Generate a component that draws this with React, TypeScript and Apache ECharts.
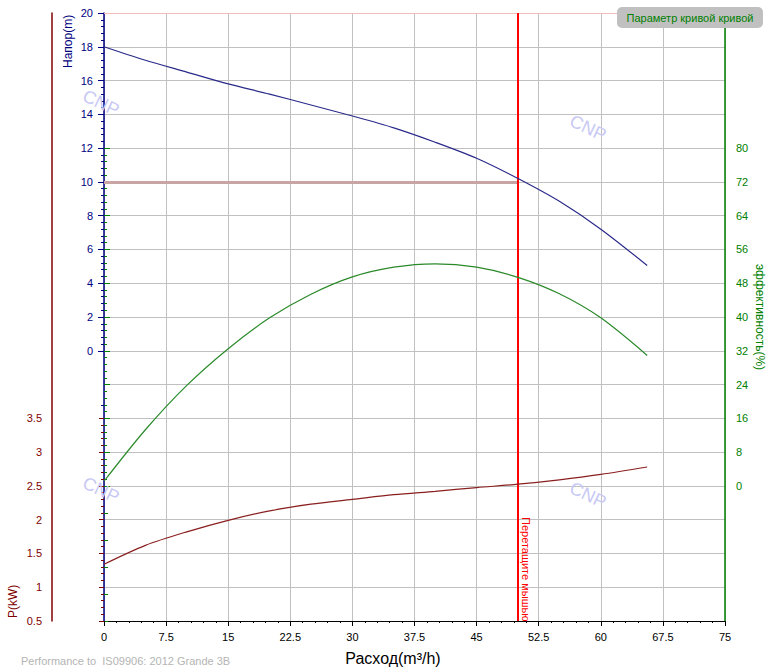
import React, { useEffect, useRef } from "react";
import * as echarts from "echarts";

const flowHead = [0, 5, 10, 15, 20, 25, 30, 35, 40, 45, 50, 55, 60, 65.6];
const head = [18, 17.2, 16.5, 15.8, 15.2, 14.55, 13.9, 13.2, 12.35, 11.4, 10.2, 8.85, 7.2, 5.05];

const flowEff = [0, 5, 10, 15, 20, 25, 30, 35, 40, 45, 50, 55, 60, 65.6];
const efficiency = [1.1, 13.3, 23.8, 32.5, 39.8, 45.4, 49.5, 51.8, 52.6, 51.8, 49.4, 45.5, 39.8, 30.9];

const flowPower = [0, 5, 10, 15, 20, 25, 30, 35, 40, 45, 50, 55, 60, 65.6];
const power = [1.34, 1.62, 1.82, 1.99, 2.13, 2.23, 2.3, 2.37, 2.42, 2.475, 2.525, 2.59, 2.67, 2.78];

const dutyFlow = 50;
const dutyHead = 10;

const NAVY = "#000080";
const GREEN = "#008000";
const MAROON = "#800000";
const FONT = "Liberation Sans";

const zip = (xs: number[], ys: number[]) => xs.map((x, i) => [x, ys[i]]);

export default function App() {
  const ref = useRef<HTMLDivElement>(null);
  useEffect(() => {
    const chart = echarts.init(ref.current!, null, { renderer: "svg" });
    const L = 104, R = 47, T = 13, B = 50;
    const H = 671 - T - B; // 608
    const step = H / 18;
    const hiddenX = (g: number) => ({ gridIndex: g, type: "value", show: false, min: 0, max: 1 });
    const tickAxis = (g: number, o: any) => ({
      gridIndex: g,
      type: "value",
      axisLine: { show: false },
      splitLine: { show: false },
      ...o,
    });
    const option: any = {
      animation: false,
      backgroundColor: "#ffffff",
      grid: [
        { left: L, right: R, top: T, bottom: B },
        { left: L, right: R, top: T, height: step * 10 },
        { left: L, right: R, top: T + step * 10, bottom: B },
        { left: L, right: R, top: T + step * 4, height: step * 10 },
        { left: L, right: R, top: T + step * 14, bottom: B },
        { left: L, right: R, top: T + step * 12, bottom: B },
      ],
      xAxis: [
        {
          gridIndex: 0,
          type: "value",
          min: 0,
          max: 75,
          interval: 7.5,
          axisLine: { onZero: false, lineStyle: { color: "#000", width: 1 } },
          axisTick: { length: 5, lineStyle: { color: "#000" } },
          minorTick: { show: true, splitNumber: 5, length: 2, lineStyle: { color: "#000" } },
          axisLabel: { color: "#000", fontSize: 11, fontFamily: FONT, margin: 10, showMinLabel: true, showMaxLabel: true },
          splitLine: { show: true, lineStyle: { color: "#c0c0c0", width: 1 } },
        },
        hiddenX(1),
        hiddenX(2),
        hiddenX(3),
        hiddenX(4),
        hiddenX(5),
      ],
      yAxis: [
        {
          gridIndex: 0,
          type: "value",
          position: "left",
          min: -16,
          max: 20,
          interval: 2,
          axisLine: { show: true, onZero: false, lineStyle: { color: NAVY, width: 1.5 } },
          axisTick: { show: false },
          axisLabel: { show: false },
          splitLine: { show: true, lineStyle: { color: "#c0c0c0", width: 1 } },
        },
        {
          gridIndex: 0,
          type: "value",
          position: "right",
          min: -32,
          max: 112,
          interval: 8,
          axisLine: { show: true, onZero: false, lineStyle: { color: GREEN, width: 1.5 } },
          axisTick: { show: false },
          axisLabel: { show: false },
          splitLine: { show: false },
        },
        {
          gridIndex: 0,
          type: "value",
          position: "left",
          offset: 52,
          min: 0.5,
          max: 9.5,
          interval: 0.5,
          axisLine: { show: true, onZero: false, lineStyle: { color: MAROON, width: 1.5 } },
          axisTick: { show: false },
          axisLabel: { show: false },
          splitLine: { show: false },
        },
        tickAxis(1, {
          position: "left",
          min: 0,
          max: 20,
          interval: 2,
          axisTick: { show: true, length: 6, lineStyle: { color: NAVY } },
          minorTick: { show: true, splitNumber: 5, length: 3, lineStyle: { color: NAVY } },
          axisLabel: { color: NAVY, fontSize: 11, fontFamily: FONT, margin: 11, showMinLabel: true, showMaxLabel: true },
        }),
        tickAxis(2, {
          position: "left",
          min: 0,
          max: 5,
          interval: 1,
          axisTick: { show: true, length: 3, lineStyle: { color: NAVY } },
          axisLabel: { show: false },
        }),
        tickAxis(3, {
          position: "right",
          min: 0,
          max: 80,
          interval: 8,
          axisTick: { show: true, length: 6, lineStyle: { color: GREEN } },
          minorTick: { show: true, splitNumber: 5, length: 3, lineStyle: { color: GREEN } },
          axisLabel: { color: GREEN, fontSize: 11, fontFamily: FONT, margin: 11, showMinLabel: true, showMaxLabel: true },
        }),
        tickAxis(4, {
          position: "right",
          min: 0,
          max: 5,
          interval: 1,
          axisTick: { show: true, length: 4, lineStyle: { color: GREEN } },
          axisLabel: { show: false },
        }),
        tickAxis(5, {
          position: "left",
          offset: 52,
          min: 0.5,
          max: 3.5,
          interval: 0.5,
          axisTick: { show: true, length: 5, lineStyle: { color: MAROON } },
          minorTick: { show: true, splitNumber: 5, length: 3, lineStyle: { color: MAROON } },
          axisLabel: { color: MAROON, fontSize: 11, fontFamily: FONT, margin: 10, showMinLabel: true, showMaxLabel: true },
        }),
      ],
      series: [
        {
          name: "head",
          type: "line",
          xAxisIndex: 0,
          yAxisIndex: 0,
          data: zip(flowHead, head),
          smooth: 0.3,
          showSymbol: false,
          lineStyle: { color: "#2a2a8a", width: 1.2 },
          z: 5,
          markLine: {
            silent: true,
            symbol: "none",
            label: { show: false },
            data: [
              [
                { coord: [0, dutyHead], lineStyle: { color: "#c9a4a4", width: 3, type: "solid" } },
                { coord: [dutyFlow, dutyHead] },
              ],
              { yAxis: 20, lineStyle: { color: "#f2bcbc", width: 1, type: "solid" } },
            ],
          },
        },
        {
          name: "efficiency",
          type: "line",
          xAxisIndex: 0,
          yAxisIndex: 1,
          data: zip(flowEff, efficiency),
          smooth: 0.3,
          showSymbol: false,
          lineStyle: { color: "#2a8a2a", width: 1.2 },
          z: 5,
        },
        {
          name: "power",
          type: "line",
          xAxisIndex: 0,
          yAxisIndex: 2,
          data: zip(flowPower, power),
          smooth: 0.3,
          showSymbol: false,
          lineStyle: { color: "#8a1f1f", width: 1.2 },
          z: 5,
          markLine: {
            silent: true,
            symbol: "none",
            label: { show: false },
            data: [{ xAxis: dutyFlow, lineStyle: { color: "#ff0000", width: 2, type: "solid" } }],
          },
        },
      ],
      graphic: [
        ...[
          [101, 103],
          [588, 128],
          [101, 490],
          [588, 495],
        ].map(([x, y]) => ({
          type: "text",
          x,
          y,
          rotation: -0.44,
          z: 1,
          style: {
            text: "CNP",
            font: `18px ${FONT}`,
            fill: "#c8c8f4",
            textAlign: "center",
            textVerticalAlign: "middle",
          },
        })),
        {
          type: "text",
          x: 68,
          y: 68,
          rotation: Math.PI / 2,
          style: { text: "Напор(m)", font: `12px ${FONT}`, fill: NAVY, textAlign: "left", textVerticalAlign: "middle" },
        },
        {
          type: "text",
          x: 13,
          y: 618,
          rotation: Math.PI / 2,
          style: { text: "P(kW)", font: `12px ${FONT}`, fill: MAROON, textAlign: "left", textVerticalAlign: "middle" },
        },
        {
          type: "text",
          x: 760,
          y: 317,
          rotation: -Math.PI / 2,
          style: { text: "эффективность(%)", font: `12px ${FONT}`, fill: GREEN, textAlign: "center", textVerticalAlign: "middle" },
        },
        {
          type: "text",
          x: 393,
          y: 658,
          style: { text: "Расход(m³/h)", font: `16px ${FONT}`, fill: "#000", textAlign: "center", textVerticalAlign: "middle" },
        },
        {
          type: "text",
          x: 21,
          y: 661,
          style: {
            text: "Performance to  IS09906: 2012 Grande 3B",
            font: `11px ${FONT}`,
            fill: "#b4b4b4",
            textAlign: "left",
            textVerticalAlign: "middle",
          },
        },
        {
          type: "rect",
          shape: { x: 617, y: 7, width: 146, height: 21, r: 5 },
          style: { fill: "#c0c0c0" },
          z: 10,
        },
        {
          type: "text",
          x: 690,
          y: 17.5,
          z: 11,
          style: { text: "Параметр кривой кривой", font: `11px ${FONT}`, fill: GREEN, textAlign: "center", textVerticalAlign: "middle" },
        },
        {
          type: "text",
          x: 520,
          y: 517,
          rotation: -Math.PI / 2,
          z: 11,
          style: { text: "Перетащите мышью", font: `11px ${FONT}`, fill: "#ff0000", textAlign: "left", textVerticalAlign: "bottom" },
        },
      ],
    };
    chart.setOption(option);
    return () => chart.dispose();
  }, []);
  return <div ref={ref} style={{ position: "absolute", left: 0, top: 0, width: 772, height: 671 }} />;
}
